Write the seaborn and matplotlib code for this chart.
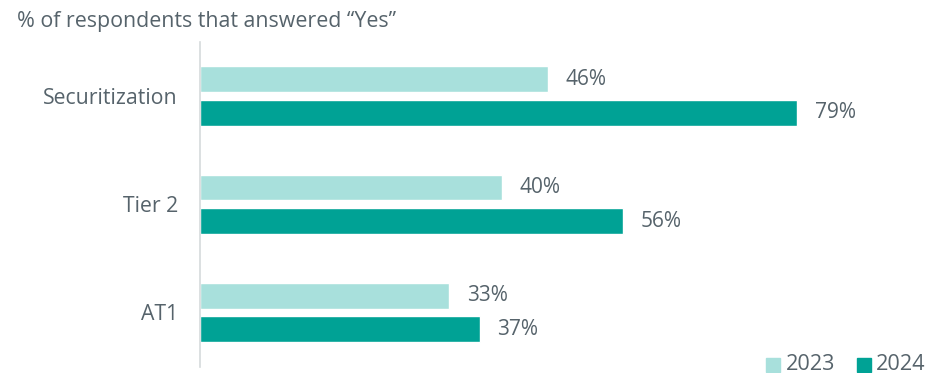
import matplotlib
matplotlib.use("Agg")
import matplotlib.pyplot as plt
import seaborn as sns
import pandas as pd

categories = ["Securitization", "Tier 2", "AT1"]
years = ["2023", "2024"]
values_2023 = [46, 40, 33]
values_2024 = [79, 56, 37]

light = "#a8e0dc"
dark = "#00a295"
text_color = "#56636b"

sns.set_theme(style="white")
plt.rcParams["font.family"] = ["Open Sans", "DejaVu Sans"]

df = pd.DataFrame({
    "category": categories * 2,
    "year": [years[0]] * 3 + [years[1]] * 3,
    "value": values_2023 + values_2024,
})

fig = plt.figure(figsize=(9.28, 3.73), dpi=100)
ax = fig.add_axes([200 / 928, 6.5 / 373, 700 / 928, 324.5 / 373])

sns.barplot(data=df, y="category", x="value", hue="year", order=categories,
            hue_order=years, palette=[light, dark], orient="h",
            width=0.62, gap=0.23, saturation=1, ax=ax, legend=False)

ax.set_xlim(0, 92.6)
ax.set_ylim(2.5, -0.5)
ax.set_xlabel("")
ax.set_ylabel("")
ax.set_xticks([])
for s in ["top", "right", "bottom"]:
    ax.spines[s].set_visible(False)
ax.spines["left"].set_color("#d6dadc")
ax.spines["left"].set_linewidth(1.2)
ax.tick_params(axis="y", length=0, pad=16, labelsize=15.3, labelcolor=text_color)

for container in ax.containers:
    ax.bar_label(container, labels=[f"{v:.0f}%" for v in container.datavalues],
                 padding=12.5, fontsize=15, color=text_color)

fig.text(17 / 928, 1 - 21 / 373, "% of respondents that answered \u201cYes\u201d",
         fontsize=15.4, color=text_color, va="center", ha="left")

# Legend entries along the bottom right
for x0, col in [(766, light), (857, dark)]:
    fig.patches.append(plt.Rectangle((x0 / 928, 1 - 372 / 373), 14 / 928, 14 / 373,
                                     transform=fig.transFigure, color=col))
for x0, lbl in [(786, years[0]), (876, years[1])]:
    fig.text(x0 / 928, 1 - 364 / 373, lbl, fontsize=15.6, color=text_color,
             va="center", ha="left")

fig.savefig("out.png", dpi=100)
